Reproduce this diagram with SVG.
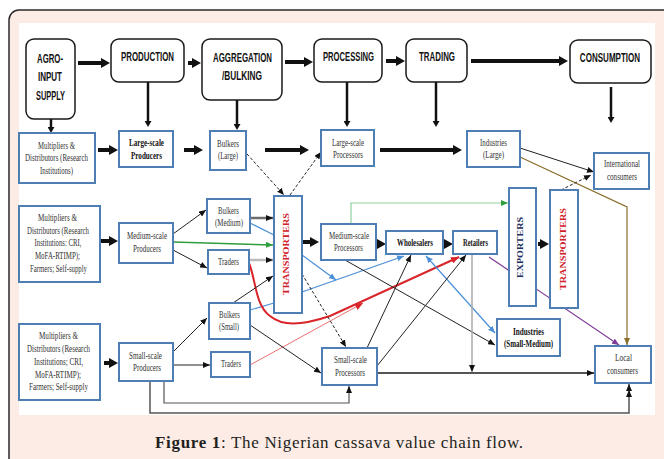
<svg xmlns="http://www.w3.org/2000/svg" width="664" height="459" viewBox="0 0 664 459">
<defs>
<style>
.bx{fill:#fff;stroke:#4d7fb4;stroke-width:2}
.tb{fill:#fff;stroke:#1a1a1a;stroke-width:1.5}
.st{font-family:"Liberation Serif","Times New Roman",serif;font-size:9.5px;fill:#333;text-anchor:middle}
.sb{font-weight:bold;fill:#111}
.ht{font-family:"Liberation Sans",Arial,sans-serif;font-weight:bold;font-size:13px;fill:#111;text-anchor:middle}
.vt{font-family:"Liberation Serif","Times New Roman",serif;font-weight:bold;font-size:9px;text-anchor:middle}
.thick{stroke:#111;stroke-width:4;fill:none;marker-end:url(#hT)}
.med{stroke:#111;stroke-width:2.5;fill:none;marker-end:url(#hM)}
.thin{stroke:#222;stroke-width:1;fill:none;marker-end:url(#hK)}
.dash{stroke-dasharray:3 2}
</style>
<marker id="hT" markerUnits="userSpaceOnUse" markerWidth="9" markerHeight="10" refX="1" refY="5" orient="auto"><path d="M0,0 L9,5 L0,10 z" fill="#111"/></marker>
<marker id="hM" markerUnits="userSpaceOnUse" markerWidth="7" markerHeight="7" refX="1" refY="3.5" orient="auto"><path d="M0,0 L6,3.5 L0,7 z" fill="#111"/></marker>
<marker id="hK" markerUnits="userSpaceOnUse" markerWidth="7" markerHeight="6" refX="7" refY="3" orient="auto"><path d="M0,0 L7,3 L0,6 z" fill="#111"/></marker>
<marker id="hB" markerUnits="userSpaceOnUse" markerWidth="7" markerHeight="6" refX="7" refY="3" orient="auto-start-reverse"><path d="M0,0 L7,3 L0,6 z" fill="#4a90d9"/></marker>
<marker id="hG" markerUnits="userSpaceOnUse" markerWidth="7" markerHeight="6" refX="7" refY="3" orient="auto"><path d="M0,0 L7,3 L0,6 z" fill="#2e9e3e"/></marker>
<marker id="hR" markerUnits="userSpaceOnUse" markerWidth="8" markerHeight="7" refX="8" refY="3.5" orient="auto"><path d="M0,0 L8,3.5 L0,7 z" fill="#d9252a"/></marker>
<marker id="hP" markerUnits="userSpaceOnUse" markerWidth="7" markerHeight="6" refX="7" refY="3" orient="auto"><path d="M0,0 L7,3 L0,6 z" fill="#7d3c98"/></marker>
<marker id="hN" markerUnits="userSpaceOnUse" markerWidth="7" markerHeight="6" refX="7" refY="3" orient="auto"><path d="M0,0 L7,3 L0,6 z" fill="#8a6d2a"/></marker>
<marker id="hD" markerUnits="userSpaceOnUse" markerWidth="13" markerHeight="6" refX="13" refY="3" orient="auto"><path d="M0,0 L7,3 L0,6 z M6,0 L13,3 L6,6 z" fill="#111"/></marker>
</defs>

<rect x="9" y="10" width="680" height="480" rx="10" fill="#fdece6" stroke="#2a2a2a" stroke-width="1.5"/>
<rect x="19" y="23" width="636" height="392" fill="#fff"/>

<g id="connectors">
<line class="thick" x1="78" y1="63" x2="102" y2="63"/>
<line class="thick" x1="188" y1="63" x2="193" y2="63"/>
<line class="thick" x1="285" y1="62" x2="305" y2="62"/>
<line class="thick" x1="386" y1="61" x2="397" y2="61"/>
<line class="thick" x1="471" y1="61" x2="560" y2="61"/>
<line class="med" x1="51" y1="119" x2="51" y2="128"/>
<line class="med" x1="148" y1="82" x2="148" y2="122"/>
<line class="med" x1="237" y1="100" x2="237" y2="125"/>
<line class="med" x1="347" y1="82" x2="347" y2="122"/>
<line class="med" x1="436" y1="82" x2="436" y2="122"/>
<line class="med" x1="611" y1="87" x2="611" y2="118"/>
<line class="thick" x1="98" y1="150" x2="110" y2="150"/>
<line class="thick" x1="184" y1="150" x2="195" y2="150"/>
<line class="thick" x1="265" y1="150" x2="301" y2="150"/>
<line class="thick" x1="380" y1="150" x2="454" y2="150"/>
<line class="thick" x1="101" y1="241" x2="110" y2="241"/>
<line class="thick" x1="303" y1="242" x2="311" y2="242"/>
<line class="thick" x1="377" y1="244" x2="378" y2="244"/>
<line class="thick" x1="444" y1="244" x2="445" y2="244"/>
<line class="thick" x1="538" y1="244" x2="541" y2="244"/>
<line class="thick" x1="104" y1="363" x2="110" y2="363"/>

<line class="thin dash" x1="247" y1="154" x2="284" y2="195"/>
<line class="thin dash" x1="290" y1="195" x2="321" y2="152"/>
<line class="thin" stroke="#333" stroke-width="1.2" x1="520" y1="148" x2="594" y2="172"/>
<path d="M520,157 L627,207 L627,345" stroke="#8a6d2a" stroke-width="1.2" fill="none" marker-end="url(#hN)"/>
<line class="thin dash" x1="561" y1="190" x2="591" y2="175"/>

<line class="thin" x1="173" y1="234" x2="206" y2="210"/>
<line class="thin" x1="173" y1="250" x2="207" y2="268"/>
<line x1="173" y1="242" x2="273" y2="245" stroke="#2e9e3e" stroke-width="1.5" marker-end="url(#hG)"/>
<line x1="250" y1="218" x2="273" y2="218" stroke="#6d6d6d" stroke-width="2.5" marker-end="url(#hK)"/>
<line x1="249" y1="260" x2="273" y2="260" stroke="#bbb" stroke-width="2.5" marker-end="url(#hK)"/>
<line x1="250" y1="223" x2="274" y2="235" stroke="#4a90d9" stroke-width="1.2"/>
<line x1="302" y1="255" x2="336" y2="280" stroke="#4a90d9" stroke-width="1.2" marker-end="url(#hB)"/>
<line x1="250" y1="310" x2="274" y2="303" stroke="#4a90d9" stroke-width="1.2"/>
<line x1="302" y1="292" x2="404" y2="256" stroke="#4a90d9" stroke-width="1.2" marker-end="url(#hB)"/>
<path d="M249,263 C256,280 255,305 270,316 C282,326 300,326 330,316 L459,257" stroke="#d9252a" stroke-width="2" fill="none" marker-end="url(#hR)"/>
<line x1="250" y1="365" x2="363" y2="303" stroke="#e86060" stroke-width="0.9" marker-end="url(#hR)"/>
<line class="thin" x1="233" y1="303" x2="273" y2="276"/>
<line class="thin" x1="173" y1="352" x2="207" y2="318"/>
<line class="thin" stroke-width="1.2" x1="173" y1="365" x2="210" y2="365"/>
<line class="thin" x1="250" y1="325" x2="321" y2="373"/>
<line class="thin dash" x1="302" y1="274" x2="346" y2="347"/>
<line class="thin" x1="345" y1="260" x2="495" y2="345"/>
<path d="M351,224 L351,203 L508,203" stroke="#8fd19e" stroke-width="1.2" fill="none" marker-end="url(#hG)"/>
<line x1="426" y1="256" x2="495" y2="333" stroke="#4a90d9" stroke-width="1.2" marker-start="url(#hB)" marker-end="url(#hB)"/>
<line class="thin" x1="367" y1="348" x2="411" y2="255"/>
<line class="thin" x1="377" y1="366" x2="466" y2="255"/>
<line x1="472" y1="254" x2="472" y2="372" stroke="#aaa" stroke-width="1.5" marker-end="url(#hK)"/>
<line x1="377" y1="373" x2="594" y2="373" stroke="#555" stroke-width="2" marker-end="url(#hK)"/>
<line x1="489" y1="257" x2="619" y2="345" stroke="#7d3c98" stroke-width="1.2" marker-end="url(#hP)"/>
<path d="M164,381 L164,403 L349,403 L349,386" stroke="#555" stroke-width="1.2" fill="none" marker-end="url(#hK)"/>
<path d="M150,381 L150,413 L629,413 L629,384" stroke="#555" stroke-width="1.5" fill="none" marker-end="url(#hD)"/>
</g>

<g id="agro-input-supply"><rect class="tb" x="26" y="39" width="49" height="80" rx="8"/>
<text class="ht" x="50" y="63" textLength="26" lengthAdjust="spacingAndGlyphs">AGRO-</text>
<text class="ht" x="50" y="81" textLength="24" lengthAdjust="spacingAndGlyphs">INPUT</text>
<text class="ht" x="50.5" y="100" textLength="29" lengthAdjust="spacingAndGlyphs">SUPPLY</text></g>
<g id="production"><rect class="tb" x="111" y="39" width="73" height="43" rx="8"/>
<text class="ht" x="147.5" y="61" textLength="53" lengthAdjust="spacingAndGlyphs">PRODUCTION</text></g>
<g id="aggregation"><rect class="tb" x="202" y="39" width="80" height="61" rx="8"/>
<text class="ht" x="242.5" y="62" textLength="59" lengthAdjust="spacingAndGlyphs">AGGREGATION</text>
<text class="ht" x="242" y="80" textLength="40" lengthAdjust="spacingAndGlyphs">/BULKING</text></g>
<g id="processing"><rect class="tb" x="314" y="39" width="68" height="43" rx="8"/>
<text class="ht" x="348.5" y="61" textLength="51" lengthAdjust="spacingAndGlyphs">PROCESSING</text></g>
<g id="trading"><rect class="tb" x="406" y="39" width="61" height="43" rx="8"/>
<text class="ht" x="437" y="61" textLength="36" lengthAdjust="spacingAndGlyphs">TRADING</text></g>
<g id="consumption"><rect class="tb" x="570" y="40" width="81" height="43" rx="8"/>
<text class="ht" transform="translate(610,62) scale(0.62,1)">CONSUMPTION</text></g>

<g id="multipliers-large"><rect class="bx" x="19" y="133" width="76" height="50"/>
<text class="st" x="56.5" y="149" textLength="37" lengthAdjust="spacingAndGlyphs">Multipliers &amp;</text>
<text class="st" x="56.5" y="161" textLength="63" lengthAdjust="spacingAndGlyphs">Distributors (Research</text>
<text class="st" x="56.5" y="174" textLength="33" lengthAdjust="spacingAndGlyphs">Institutions)</text></g>
<g id="large-producers"><rect class="bx" x="119" y="131" width="54" height="36"/>
<text class="st sb" x="146.5" y="146" textLength="35" lengthAdjust="spacingAndGlyphs">Large-scale</text>
<text class="st sb" x="146.5" y="159" textLength="31" lengthAdjust="spacingAndGlyphs">Producers</text></g>
<g id="bulkers-large"><rect class="bx" x="210" y="131" width="36" height="39"/>
<text class="st" x="228" y="147" textLength="22" lengthAdjust="spacingAndGlyphs">Bulkers</text>
<text class="st" x="228" y="159" textLength="20" lengthAdjust="spacingAndGlyphs">(Large)</text></g>
<g id="large-processors"><rect class="bx" x="321" y="130" width="53" height="36"/>
<text class="st" x="348" y="146" textLength="32" lengthAdjust="spacingAndGlyphs">Large-scale</text>
<text class="st" x="348" y="158" textLength="30" lengthAdjust="spacingAndGlyphs">Processors</text></g>
<g id="industries-large"><rect class="bx" x="467" y="131" width="53" height="36"/>
<text class="st" x="493.5" y="146" textLength="27" lengthAdjust="spacingAndGlyphs">Industries</text>
<text class="st" x="493.5" y="158" textLength="21" lengthAdjust="spacingAndGlyphs">(Large)</text></g>
<g id="international-consumers"><rect class="bx" x="594" y="153" width="55" height="36"/>
<text class="st" x="622" y="167" textLength="36" lengthAdjust="spacingAndGlyphs">International</text>
<text class="st" x="622" y="180" textLength="30" lengthAdjust="spacingAndGlyphs">consumers</text></g>

<g id="multipliers-medium"><rect class="bx" x="19" y="206" width="81" height="76"/>
<text class="st" x="57.5" y="221" textLength="39" lengthAdjust="spacingAndGlyphs">Multipliers &amp;</text>
<text class="st" x="58" y="234" textLength="62" lengthAdjust="spacingAndGlyphs">Distributors (Research</text>
<text class="st" x="58" y="246" textLength="47" lengthAdjust="spacingAndGlyphs">Institutions: CRI,</text>
<text class="st" x="57.5" y="259" textLength="45" lengthAdjust="spacingAndGlyphs">MoFA-RTIMP);</text>
<text class="st" x="58.5" y="272" textLength="57" lengthAdjust="spacingAndGlyphs">Farmers; Self-supply</text></g>
<g id="medium-producers"><rect class="bx" x="119" y="223" width="54" height="40"/>
<text class="st" x="147" y="239" textLength="40" lengthAdjust="spacingAndGlyphs">Medium-scale</text>
<text class="st" x="147" y="252" textLength="28" lengthAdjust="spacingAndGlyphs">Producers</text></g>
<g id="bulkers-medium"><rect class="bx" x="207" y="199" width="43" height="34"/>
<text class="st" x="228.5" y="214" textLength="21" lengthAdjust="spacingAndGlyphs">Bulkers</text>
<text class="st" x="229" y="226" textLength="28" lengthAdjust="spacingAndGlyphs">(Medium)</text></g>
<g id="traders-medium"><rect class="bx" x="208" y="250" width="41" height="24"/>
<text class="st" x="228.5" y="265" textLength="21" lengthAdjust="spacingAndGlyphs">Traders</text></g>
<g id="transporters-left"><rect class="bx" x="274" y="196" width="28" height="117"/>
<text class="vt" fill="#d0202a" transform="translate(288.5,254) rotate(-90)" textLength="82" lengthAdjust="spacingAndGlyphs">TRANSPORTERS</text></g>
<g id="medium-processors"><rect class="bx" x="321" y="224" width="55" height="36"/>
<text class="st" x="349" y="239" textLength="40" lengthAdjust="spacingAndGlyphs">Medium-scale</text>
<text class="st" x="348.5" y="251" textLength="29" lengthAdjust="spacingAndGlyphs">Processors</text></g>
<g id="wholesalers"><rect class="bx" x="386" y="231" width="57" height="23"/>
<text class="st sb" x="415" y="246" textLength="36" lengthAdjust="spacingAndGlyphs">Wholesalers</text></g>
<g id="retailers"><rect class="bx" x="453" y="231" width="44" height="23"/>
<text class="st sb" x="475.5" y="246" textLength="25" lengthAdjust="spacingAndGlyphs">Retailers</text></g>
<g id="exporters"><rect class="bx" x="509" y="188" width="27" height="118"/>
<text class="vt" fill="#1c2c5c" transform="translate(523,247.5) rotate(-90)" textLength="61" lengthAdjust="spacingAndGlyphs">EXPORTERS</text></g>
<g id="transporters-right"><rect class="bx" x="550" y="190" width="28" height="118"/>
<text class="vt" fill="#d0202a" transform="translate(566,249) rotate(-90)" textLength="82" lengthAdjust="spacingAndGlyphs">TRANSPORTERS</text></g>
<g id="industries-small-medium"><rect class="bx" x="497" y="319" width="63" height="37"/>
<text class="st sb" x="528.5" y="335" textLength="31" lengthAdjust="spacingAndGlyphs">Industries</text>
<text class="st sb" x="528.5" y="347" textLength="49" lengthAdjust="spacingAndGlyphs">(Small-Medium)</text></g>
<g id="local-consumers"><rect class="bx" x="595" y="346" width="56" height="37"/>
<text class="st" x="623.5" y="361" textLength="17" lengthAdjust="spacingAndGlyphs">Local</text>
<text class="st" x="622.5" y="374" textLength="31" lengthAdjust="spacingAndGlyphs">consumers</text></g>

<g id="multipliers-small"><rect class="bx" x="19" y="324" width="81" height="76"/>
<text class="st" x="58.5" y="339" textLength="39" lengthAdjust="spacingAndGlyphs">Multipliers &amp;</text>
<text class="st" x="58.5" y="352" textLength="63" lengthAdjust="spacingAndGlyphs">Distributors (Research</text>
<text class="st" x="58.5" y="365" textLength="49" lengthAdjust="spacingAndGlyphs">Institutions; CRI,</text>
<text class="st" x="58" y="378" textLength="46" lengthAdjust="spacingAndGlyphs">MoFA-RTIMP);</text>
<text class="st" x="58.5" y="390" textLength="59" lengthAdjust="spacingAndGlyphs">Farmers; Self-supply</text></g>
<g id="small-producers"><rect class="bx" x="119" y="343" width="54" height="38"/>
<text class="st" x="145.5" y="359" textLength="33" lengthAdjust="spacingAndGlyphs">Small-scale</text>
<text class="st" x="147" y="371" textLength="28" lengthAdjust="spacingAndGlyphs">Producers</text></g>
<g id="bulkers-small"><rect class="bx" x="209" y="303" width="41" height="36"/>
<text class="st" x="229.5" y="318" textLength="21" lengthAdjust="spacingAndGlyphs">Bulkers</text>
<text class="st" x="229" y="330" textLength="20" lengthAdjust="spacingAndGlyphs">(Small)</text></g>
<g id="traders-small"><rect class="bx" x="211" y="352" width="39" height="25"/>
<text class="st" x="231" y="367" textLength="20" lengthAdjust="spacingAndGlyphs">Traders</text></g>
<g id="small-processors"><rect class="bx" x="322" y="348" width="55" height="37"/>
<text class="st" x="350.5" y="363" textLength="33" lengthAdjust="spacingAndGlyphs">Small-scale</text>
<text class="st" x="350" y="376" textLength="30" lengthAdjust="spacingAndGlyphs">Processors</text></g>

<text x="155" y="448" font-family="'Liberation Serif','Times New Roman',serif" font-size="17" fill="#231f20" textLength="368" lengthAdjust="spacing"><tspan font-weight="bold">Figure 1</tspan>: The Nigerian cassava value chain flow.</text>
</svg>
